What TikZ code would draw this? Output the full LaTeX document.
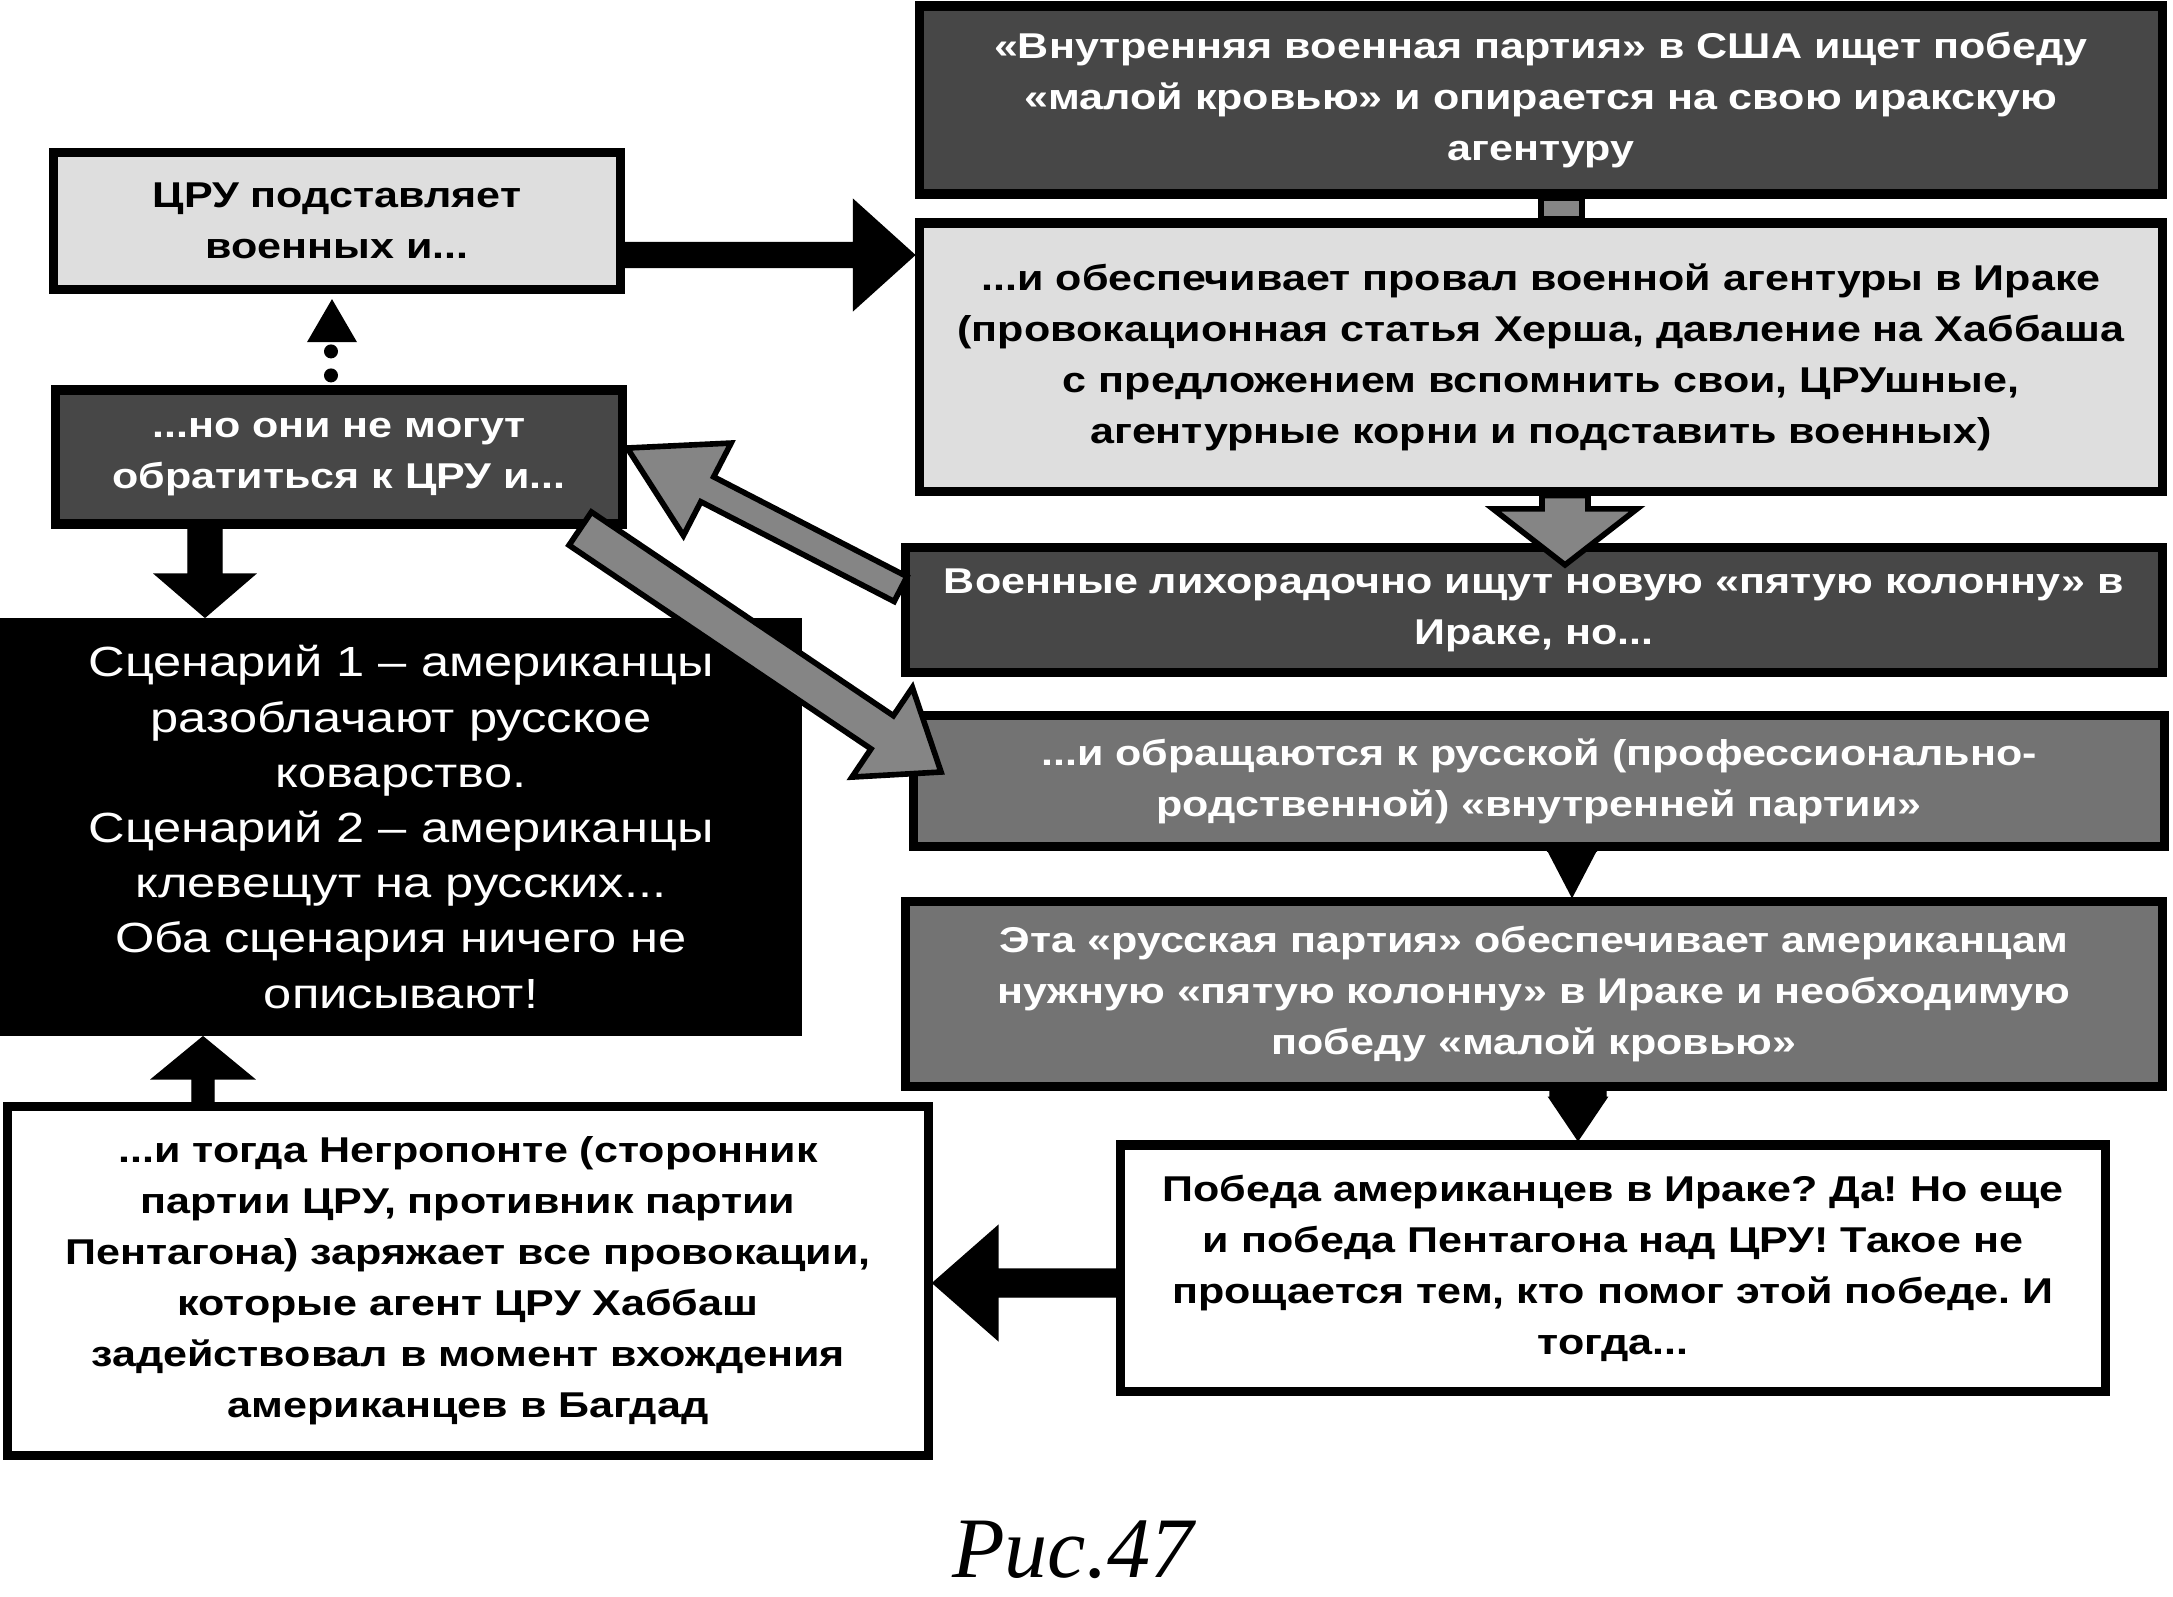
\documentclass[tikz,border=0pt]{standalone}
\usepackage{fontspec}
\setmainfont{Liberation Sans}[FakeStretch=1.2]
\newfontfamily\capfont{Liberation Serif}
\usetikzlibrary{calc,backgrounds}
\frenchspacing

\newcommand\bfbox{\bfseries\fontsize{10.2pt}{14.5pt}\selectfont}
\newcommand\scenfont{\fontsize{12pt}{15.7pt}\selectfont}
% block arrow: [style]{from}{to}{half shaft}{half head}{head length}
\newcommand\fatarrow[6][]{%
  \coordinate (fa) at ($(#3)!#6!(#2)$);
  \draw[#1] ($(#2)!#4!90:(#3)$) -- ($(fa)!#4!-90:(#2)$) -- ($(fa)!#5!-90:(#2)$)
    -- (#3) -- ($(fa)!#5!90:(#2)$) -- ($(fa)!#4!90:(#2)$) -- ($(#2)!#4!-90:(#3)$) -- cycle;}

\tikzset{
  box/.style={draw, line width=2.6pt, align=center, inner sep=0pt, font=\bfbox},
  lightbox/.style={box, fill=black!13},
  darkbox/.style={box, fill=black!72, text=white},
  midbox/.style={box, fill=black!55, text=white},
  whitebox/.style={box, fill=white},
  blackarrow/.style={fill=black},
  greyarrow/.style={fill=black!48, draw=black, line width=1.6pt, line join=miter},
}

\begin{document}
\begin{tikzpicture}[x=0.01cm, y=-0.01cm]
\useasboundingbox (0,0) rectangle (2173,1596);

% boxes
\node[darkbox, minimum width=12.43cm, minimum height=1.88cm] (top) at (1541,100)
  {«Внутренняя военная партия» в США ищет победу\\«малой кровью» и опирается на свою иракскую\\агентуру};
\node[lightbox, minimum width=5.66cm, minimum height=1.37cm] (cia) at (337,221)
  {ЦРУ подставляет\\военных и...};
\node[lightbox, minimum width=12.43cm, minimum height=2.68cm] (fail) at (1541,357)
  {...и обеспечивает провал военной агентуры в Ираке\\(провокационная статья Херша, давление на Хаббаша\\с предложением вспомнить свои, ЦРУшные,\\агентурные корни и подставить военных)};
\node[darkbox, minimum width=5.67cm, minimum height=1.34cm] (cannot) at (339,457)
  {...но они не могут\\обратиться к ЦРУ и...};
\node[darkbox, minimum width=12.57cm, minimum height=1.25cm] (seek) at (1534,610)
  {Военные лихорадочно ищут новую «пятую колонну» в\\Ираке, но...};
\node[fill=black, text=white, align=center, inner sep=0pt, font=\scenfont,
  minimum width=8.02cm, minimum height=4.18cm] (scen) at (401,827)
  {Сценарий 1 – американцы\\разоблачают русское\\коварство.\\Сценарий 2 – американцы\\клевещут на русских...\\Оба сценария ничего не\\описывают!};
\node[midbox, minimum width=12.5cm, minimum height=1.31cm] (turn) at (1539,781)
  {...и обращаются к русской (профессионально-\\родственной) «внутренней партии»};
\node[midbox, minimum width=12.57cm, minimum height=1.85cm] (rus) at (1534,994)
  {Эта «русская партия» обеспечивает американцам\\нужную «пятую колонну» в Ираке и необходимую\\победу «малой кровью»};
\node[whitebox, minimum width=9.84cm, minimum height=2.46cm] (win) at (1613,1268)
  {Победа американцев в Ираке? Да! Но еще\\и победа Пентагона над ЦРУ! Такое не\\прощается тем, кто помог этой победе. И\\тогда...};
\node[whitebox, minimum width=9.2cm, minimum height=3.48cm] (negro) at (468,1281)
  {...и тогда Негропонте (сторонник\\партии ЦРУ, противник партии\\Пентагона) заряжает все провокации,\\которые агент ЦРУ Хаббаш\\задействовал в момент вхождения\\американцев в Багдад};
\node[font=\capfont\itshape\fontsize{24.5pt}{28pt}\selectfont] (cap) at (1073,1550) {Рис.47};

% connectors behind the boxes
\begin{scope}[on background layer]
  \draw[greyarrow] (top.south) rectangle ($(fail.north)+(41,0)$);
  \foreach \d in {-34,-10}
    \fill ($(cannot.north)+(-8,\d)$) circle (0.07cm);
\end{scope}
\fill ($(cia.south)+(-5,5)$) -- ++(-25,43) -- ++(50,0) -- cycle;

% arrows
\coordinate (a1) at ($(cia.east)+(0,34)$);
\coordinate (a2) at (a1 -| fail.west);
\fatarrow[blackarrow]{a1}{a2}{0.125cm}{0.55cm}{0.61cm}

\coordinate (c1) at ($(fail.south)+(24,0)$);
\coordinate (c2) at ($(c1 |- seek.north)+(0,22)$);
\fatarrow[greyarrow]{c1}{c2}{0.23cm}{0.72cm}{0.56cm}

\coordinate (d1) at ($(seek.west)+(0,-21)$);
\coordinate (d2) at ($(cannot.east)+(0,-9)$);
\fatarrow[greyarrow]{d1}{d2}{0.14cm}{0.52cm}{0.9cm}

\coordinate (e1) at ($(cannot.south east)+(-47,0)$);
\coordinate (e2) at ($(turn.west)+(32,-9)$);
\fatarrow[greyarrow]{e1}{e2}{0.2cm}{0.54cm}{0.71cm}

\coordinate (g1) at ($(cannot.south)+(-134,0)$);
\coordinate (g2) at (g1 |- scen.north);
\fatarrow[blackarrow]{g1}{g2}{0.17cm}{0.5cm}{0.43cm}

\coordinate (h1) at ($(turn.south)+(33,0)$);
\coordinate (h2) at (h1 |- rus.north);
\fatarrow[blackarrow]{h1}{h2}{0.25cm}{0.26cm}{0.5cm}

\coordinate (i1) at ($(rus.south)+(44,0)$);
\coordinate (i2) at (i1 |- win.north);
\fatarrow[blackarrow]{i1}{i2}{0.28cm}{0.29cm}{0.43cm}

\coordinate (j1) at ($(win.west)+(0,15)$);
\coordinate (j2) at (j1 -| negro.east);
\fatarrow[blackarrow]{j1}{j2}{0.14cm}{0.57cm}{0.65cm}

\coordinate (k1) at ($(negro.north)+(-265,0)$);
\coordinate (k2) at (k1 |- scen.south);
\fatarrow[blackarrow]{k1}{k2}{0.11cm}{0.51cm}{0.42cm}
\end{tikzpicture}
\end{document}
